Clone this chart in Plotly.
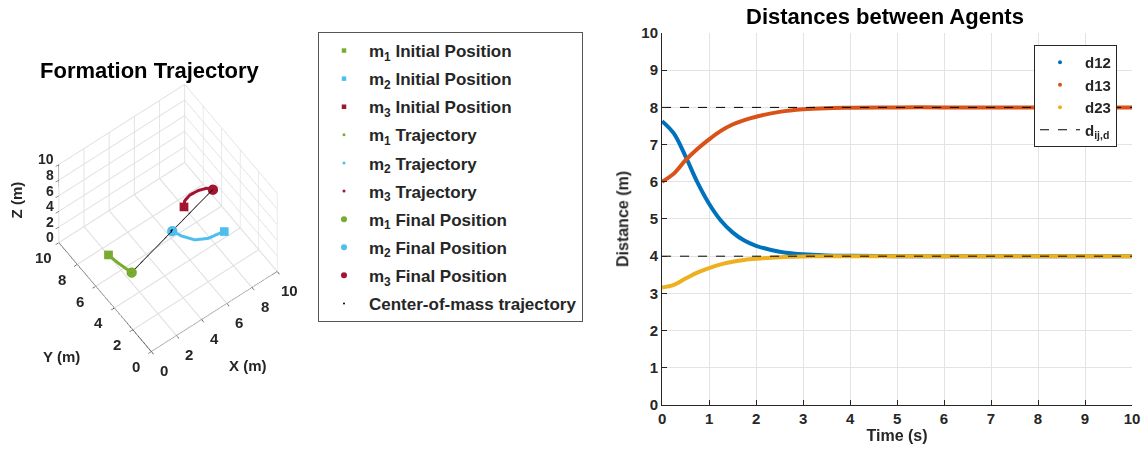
import plotly.graph_objects as go

# ---------------- data ----------------
# Formation trajectory (planar motion at z = 3)
z_level = 3.0
m1_x = [1.00, 1.04, 1.09, 1.15, 1.24, 1.33, 1.42]
m1_y = [6.00, 5.70, 5.40, 5.10, 4.75, 4.40, 4.07]
m2_x = [8.00, 7.59, 6.87, 6.11, 5.59, 5.33]
m2_y = [3.00, 3.08, 3.19, 3.61, 4.35, 5.00]
m3_x = [7.00, 7.29, 7.81, 8.44, 8.98, 9.24]
m3_y = [6.00, 6.32, 6.47, 6.42, 6.24, 5.93]
com_x = [5.33]
com_y = [5.00]
ticks3d = [0, 2, 4, 6, 8, 10]

# Distances between agents
time_s = [0, 0.25, 0.5, 0.75, 1.0, 1.25, 1.5, 1.75, 2.0, 2.5, 3.0, 3.5, 4.0, 5, 6, 7, 8, 9, 10]
d12 = [7.63, 7.30, 6.68, 5.99, 5.41, 4.96, 4.64, 4.42, 4.28, 4.12, 4.05, 4.02, 4.01, 4.0, 4.0, 4.0, 4.0, 4.0, 4.0]
d13 = [6.00, 6.22, 6.58, 6.88, 7.14, 7.37, 7.54, 7.66, 7.75, 7.88, 7.95, 7.98, 7.99, 8.0, 8.0, 8.0, 8.0, 8.0, 8.0]
d23 = [3.16, 3.23, 3.40, 3.56, 3.68, 3.78, 3.85, 3.90, 3.93, 3.97, 3.99, 4.0, 4.0, 4.0, 4.0, 4.0, 4.0, 4.0, 4.0]
desired = [8, 4]
x_ticks = [0, 1, 2, 3, 4, 5, 6, 7, 8, 9, 10]
y_ticks = [0, 1, 2, 3, 4, 5, 6, 7, 8, 9, 10]

C1, C2, C3 = "#77AC30", "#4DBEEE", "#A2142F"
B, O, Y = "#0072BD", "#D95319", "#EDB120"
TXT = "#262626"
FONT = "Arial"

fig = go.Figure()

def z_of(xs):
    return [z_level] * len(xs)

agents = [(m1_x, m1_y, C1, "1"), (m2_x, m2_y, C2, "2"), (m3_x, m3_y, C3, "3")]
gi = 0
# ---- 3D traces ----
for xs, ys, c, n in agents:
    gi += 1
    fig.add_trace(go.Scatter3d(x=[xs[0]], y=[ys[0]], z=[z_level], mode="markers",
                               marker=dict(symbol="square", size=4.5, color=c),
                               name=f"m<sub>{n}</sub> Initial Position", legend="legend",
                               legendgroup=f"g{gi}"))
for xs, ys, c, n in agents:
    gi += 1
    fig.add_trace(go.Scatter(x=[None], y=[None], mode="markers",
                             marker=dict(symbol="circle", size=3, color=c),
                             name=f"m<sub>{n}</sub> Trajectory", legend="legend",
                             legendgroup=f"g{gi}"))
for xs, ys, c, n in agents:
    gi += 1
    fig.add_trace(go.Scatter3d(x=[xs[-1]], y=[ys[-1]], z=[z_level], mode="markers",
                               marker=dict(symbol="circle", size=6, color=c),
                               name=f"m<sub>{n}</sub> Final Position", legend="legend",
                               legendgroup=f"g{gi}"))
gi += 1
fig.add_trace(go.Scatter3d(x=com_x, y=com_y, z=[z_level], mode="markers",
                           marker=dict(symbol="circle", size=2, color="black"),
                           name="Center-of-mass trajectory", legend="legend",
                           legendgroup=f"g{gi}"))
# trajectory lines (not in legend)
for xs, ys, c, n in agents:
    fig.add_trace(go.Scatter3d(x=xs, y=ys, z=z_of(xs), mode="lines",
                               line=dict(color=c, width=6), showlegend=False))
# final formation line
fig.add_trace(go.Scatter3d(x=[m1_x[-1], m2_x[-1], m3_x[-1]], y=[m1_y[-1], m2_y[-1], m3_y[-1]],
                           z=[z_level] * 3, mode="lines", line=dict(color="black", width=1.5),
                           showlegend=False))

# ---- 2D distance traces ----
for ys, c, n in [(d12, B, "d12"), (d13, O, "d13"), (d23, Y, "d23")]:
    fig.add_trace(go.Scatter(x=time_s, y=ys, mode="lines", line=dict(color=c, width=4, shape="spline"),
                             showlegend=False, legend="legend2"))
for c, n in [(B, "d12"), (O, "d13"), (Y, "d23")]:
    fig.add_trace(go.Scatter(x=[None], y=[None], mode="markers", marker=dict(size=4, color=c),
                             name=n, legend="legend2"))
dx, dy = [], []
for d in desired:
    dx += [x_ticks[0], x_ticks[-1], None]
    dy += [d, d, None]
fig.add_trace(go.Scatter(x=dx, y=dy, mode="lines", line=dict(color="black", width=1, dash="dash"),
                         name="d<sub>ij,d</sub>", legend="legend2"))

# ---- 3D tick labels and axis titles as scene annotations ----
tick_font = dict(family=FONT, size=15, color=TXT, weight="bold")
z_font = dict(family=FONT, size=14, color=TXT, weight="bold")
s_ann = []
for v in ticks3d:
    s_ann.append(dict(x=v, y=0, z=0, text=str(v), showarrow=False, xshift=12, yshift=-19,
                      font=tick_font))
    s_ann.append(dict(x=0, y=v, z=0, text=str(v), showarrow=False, xshift=-16, yshift=-15,
                      font=tick_font))
    s_ann.append(dict(x=0, y=10, z=v, text=str(v), showarrow=False, xanchor="right", xshift=-3,
                      yshift=5, font=z_font))
s_ann.append(dict(x=5, y=0, z=0, text="X (m)", showarrow=False, xshift=33, yshift=-54,
                  font=tick_font))
s_ann.append(dict(x=0, y=5, z=0, text="Y (m)", showarrow=False, xshift=-44, yshift=-60,
                  font=tick_font))
s_ann.append(dict(x=0, y=10, z=5, text="Z (m)", showarrow=False, xshift=-43, yshift=3,
                  textangle=-90, font=tick_font))

ax3 = dict(range=[0, 10], tickvals=ticks3d, showbackground=False, gridcolor="#dedede",
           showline=True, linecolor=TXT, zeroline=False, ticks="outside", tickcolor=TXT,
           ticklen=4, showticklabels=False, showspikes=False, title=dict(text=""))

fig.update_layout(
    width=1148, height=457, margin=dict(l=0, r=0, t=0, b=0, autoexpand=False),
    paper_bgcolor="white", plot_bgcolor="white",
    font=dict(family=FONT, color=TXT),
    scene=dict(
        domain=dict(x=[0.0167, 0.2767], y=[0.2234, 0.8234]),
        xaxis=ax3, yaxis=ax3, zaxis=ax3,
        aspectmode="manual", aspectratio=dict(x=1.14, y=1.14, z=1.14),
        camera=dict(eye=dict(x=-0.524, y=-0.713, z=1.533), up=dict(x=0, y=0, z=1),
                    center=dict(x=0, y=0, z=0), projection=dict(type="orthographic")),
        annotations=s_ann,
    ),
    xaxis=dict(domain=[0.5767, 0.9861], range=[0, 10], tickvals=x_ticks, showgrid=True,
               gridcolor="#e3e3e3", showline=True, linecolor=TXT, ticks="inside", tickcolor=TXT,
               ticklen=5, zeroline=False, tickfont=dict(size=15, weight="bold", color=TXT),
               title=dict(text="Time (s)", font=dict(size=16, weight="bold", color=TXT), standoff=2)),
    yaxis=dict(domain=[0.1138, 0.9278], range=[0, 10], tickvals=y_ticks, showgrid=True,
               gridcolor="#e3e3e3", showline=True, linecolor=TXT, ticks="inside", tickcolor=TXT,
               ticklen=5, zeroline=False, tickfont=dict(size=15, weight="bold", color=TXT),
               title=dict(text="Distance (m)", font=dict(size=16, weight="bold", color=TXT), standoff=8)),
    legend=dict(x=0.277, y=0.93, xanchor="left", yanchor="top", bordercolor="#555555", borderwidth=1,
                font=dict(family=FONT, size=17, color=TXT, weight="bold"), bgcolor="white",
                traceorder="grouped", tracegroupgap=3, itemwidth=40),
    legend2=dict(x=0.9007, y=0.9015, xanchor="left", yanchor="top", bordercolor=TXT, borderwidth=1,
                 font=dict(family=FONT, size=15, color=TXT, weight="bold"), bgcolor="white",
                 itemwidth=40),
    annotations=[
        dict(text="<b>Formation Trajectory</b>", x=0.1307, y=1 - 70 / 457, xref="paper", yref="paper",
             xanchor="center", yanchor="middle", showarrow=False,
             font=dict(family=FONT, size=22, color="black")),
        dict(text="<b>Distances between Agents</b>", x=885 / 1148, y=1 - 16 / 457, xref="paper",
             yref="paper", xanchor="center", yanchor="middle", showarrow=False,
             font=dict(family=FONT, size=22, color="black")),
    ],
)

fig.write_html("out.html")
